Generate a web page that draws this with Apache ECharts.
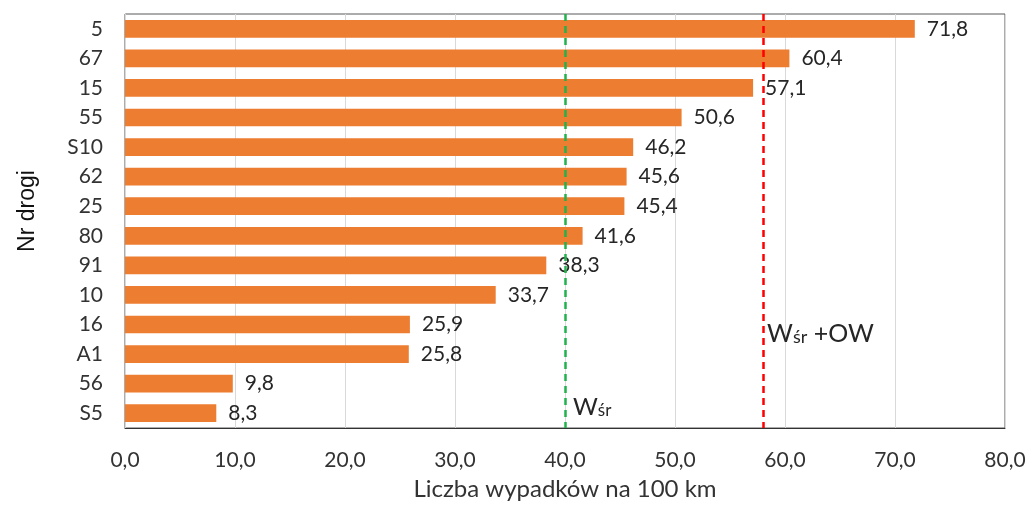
<!DOCTYPE html>
<html>
<head>
<meta charset="utf-8">
<script src="https://cdn.jsdelivr.net/npm/echarts@6/dist/echarts.min.js"></script>
<style>
  html, body { margin: 0; padding: 0; background: #fff; }
  #chart { width: 1030px; height: 506px; }
</style>
</head>
<body>
<div id="chart"></div>
<script>
// Road numbers, top to bottom
const roads = ['5', '67', '15', '55', 'S10', '62', '25', '80', '91', '10', '16', 'A1', '56', 'S5'];
// Accidents per 100 km for each road
const accidents = [71.8, 60.4, 57.1, 50.6, 46.2, 45.6, 45.4, 41.6, 38.3, 33.7, 25.9, 25.8, 9.8, 8.3];
// Reference levels: mean (Wśr) and mean + standard deviation (Wśr +OW)
const meanLevel = 40.0;
const meanPlusSd = 58.0;
const xTicks = { min: 0, max: 80, step: 10 };

const font = 'Lato, "Open Sans", sans-serif';
const fmt = v => v.toFixed(1).replace('.', ',');

const chart = echarts.init(document.getElementById('chart'));
chart.setOption({
  animation: false,
  textStyle: { fontFamily: font },
  grid: { left: 125, right: 25, top: 14, bottom: 75, show: true, borderColor: '#595959', borderWidth: 1 },
  xAxis: {
    type: 'value',
    min: xTicks.min, max: xTicks.max, interval: xTicks.step,
    name: 'Liczba wypadków na 100 km',
    nameLocation: 'middle', nameGap: 49,
    nameTextStyle: { fontSize: 24, color: '#333', fontFamily: font },
    axisLine: { show: true, lineStyle: { color: '#333', width: 1 } },
    axisTick: { show: false },
    axisLabel: { fontSize: 21, color: '#333', margin: 22, formatter: v => fmt(v), fontFamily: font },
    splitLine: { show: true, lineStyle: { color: '#d9d9d9', width: 1 } }
  },
  yAxis: {
    type: 'category',
    data: roads,
    inverse: true,
    name: 'Nr drogi',
    nameLocation: 'middle', nameGap: 86, nameRotate: 90,
    nameTextStyle: {
      fontSize: 23, color: '#111', fontFamily: '"Liberation Sans", Arial, sans-serif',
      padding: [0, 0, 0, 20]
    },
    axisLine: { show: true, lineStyle: { color: '#d9d9d9' } },
    axisTick: { show: false },
    axisLabel: { fontSize: 21, color: '#333', margin: 22, fontFamily: font },
    splitLine: { show: false }
  },
  series: [{
    type: 'bar',
    data: accidents,
    barCategoryGap: '40%',
    itemStyle: { color: '#ED7D31' },
    label: {
      show: true, position: 'right', distance: 12,
      fontSize: 21, color: '#262626', fontFamily: font,
      formatter: p => fmt(p.value)
    },
    markLine: {
      symbol: 'none', silent: true,
      label: { show: false },
      data: [
        { xAxis: meanLevel, lineStyle: { color: '#22b14c', type: [7, 5], width: 2.5 } },
        { xAxis: meanPlusSd, lineStyle: { color: '#ff0000', type: [7, 5], width: 2.5 } }
      ]
    },
    markPoint: {
      symbol: 'circle', symbolSize: 0, silent: true,
      data: [
        {
          coord: [meanLevel, 'S5'],
          label: {
            show: true, position: 'right', distance: 0, offset: [8, -6],
            formatter: '{w|W}{s|śr}',
            rich: {
              w: { fontSize: 24, color: '#262626', fontFamily: font, verticalAlign: 'bottom' },
              s: { fontSize: 17, color: '#262626', fontFamily: font, verticalAlign: 'bottom' }
            }
          }
        },
        {
          coord: [meanPlusSd, '16'],
          label: {
            show: true, position: 'right', distance: 0, offset: [4, 9],
            formatter: '{w|W}{s|śr}{w| +OW}',
            rich: {
              w: { fontSize: 25, color: '#262626', fontFamily: font, verticalAlign: 'bottom' },
              s: { fontSize: 18, color: '#262626', fontFamily: font, verticalAlign: 'bottom' }
            }
          }
        }
      ]
    }
  }]
});
</script>
</body>
</html>
